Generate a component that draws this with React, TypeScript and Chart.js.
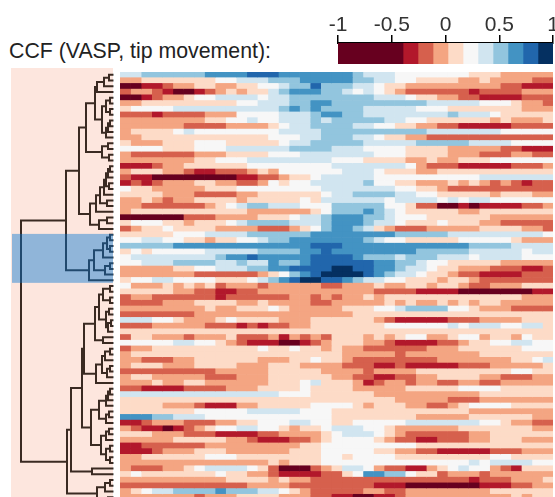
import React, { useEffect, useRef } from "react";
import { Chart, registerables } from "chart.js";

Chart.register(...registerables);

const titleText = "CCF (VASP, tip movement):";
const tickValues = [-1, -0.5, 0, 0.5, 1];
const classCodes = "abcdefghijk";
const classColors = ["#67001f", "#b2182b", "#d6604d", "#f4a582", "#fddbc7", "#f7f7f7", "#d1e5f0", "#92c5de", "#4393c3", "#2166ac", "#053061"];
const classEdges = [-1, -0.395, -0.256, -0.116, 0.023, 0.163, 0.302, 0.442, 0.581, 0.721, 0.86, 1];

// One string per row, one class code per lag column (spaces are only for reading).
const heatRows = [
  "gg hhhhhh iiii jjj iiiiiii h ggg fffffff eee ddddd",
  "dd eeeeeee ff ggg h hh iiiii hh gg ff eeee dd e dddd cc",
  "aa bb c dd ee dd ee ff g hh j hhh gg f ee ddddddddd cc bbb",
  "c dd c b aa b c d e d ee g h iii hh g f g f e d cccccc b cccc ddd",
  "aa b c dd e ff gggg f g g hhhhhhhh ggg f ee dd cc bbbb ccc",
  "dd eeeeeeeee ff gg g hh ii hhhhhhhhh ggggg fff e dd c",
  "e ffff gggggggggg h i h i hhhh ggggg fff eeeeeee ddd",
  "ccc b cccc ddd ffff ggg h ii hh gggggggg h ggg f eeeee",
  "dddddddd ee ff g ff ggg h g hhhhh gg ff eeeeee d e ddd e",
  "dddddd cccc dddd e f gg hhhh gg ff ee dd cc bbbbb cccc",
  "d eeee f g ffffffff gggg hhhhhhhhhh ggggggg fffff",
  "dd eeeeeeeeeeee f ff gg hhh gg f ee dd cccccccccccc",
  "e ddd eee fff eeeee f gg hhhhh ggggg hhhhh gggg ffff",
  "ffff eee fff ggggg g hhhh ggg ffff eeee ddddd cc bbb",
  "d cccccc ddd eeee f ff ggggggg fff eeee ddd ccc dd cc",
  "ddddddd ee fff ggg ggggg fff eeee dd e dd eee ffffff",
  "bbb c dd eeeeee fff fffff ggggggg f d ccc bbbbb ccc d",
  "d eee dd c bb ccc d e d ffffff ggg f eee dd eeeeeeeeeee",
  "c bb aaaaaaaa bb cc d ee f ggggg ffffffffff ggggggg",
  "b c b c ddd ee dd cc d f e ff ggggg h ff ee ddd e d e d c d c b cc",
  "f ee ddddd eee ffff ffff ggggggg ff ee d cccccccccc",
  "eeee ddd cccc dd ee eeee f gg hhhh gg ff eeeee d eee dd",
  "dd e d c dd eeee d eee ee f e gggggg f gggg f g f gg ffffff",
  "dd cccccc d e f g hh g gg fff hhhhh ff e cc aa b a bbbb cc d",
  "d eeeeeeeeeee ddd ddd e f hhh i h g f eeeee dd eeeeeee",
  "aaaaaa ccc dddd ee e f gg h iii hh g fff eeeeee dddddd",
  "e fff ee d eee f g hhh h ggg h iii h gg f eee f eee dd ccccc",
  "c d ee f eeee dddd cc c d e f h ii h g e d ccc ddddd eeee dd c",
  "eeeee fff gggg hhh hhh iiiiiiii hhhhh ggggggggg f",
  "ff gg ff ee d ee ff g h h iiiiiii h g ff eeeee fffff e ddd",
  "hhhhh iiiiiiiiii iii jjj iiiiiiiiiiii hhhh gggg",
  "e f e fffff ggggg hh hh ii j iiiiiiii hhhhh ggggg f gg",
  "f gggggggg h ii j ii iii jjjj i hhh g hhh ggg f gggg fff",
  "ff ggg hhhh gg h gg i hh i jjjjjj ii hh g ff eeeee ddddd",
  "ddddd ee ff ggg hh i i jjjj kk jj ii h gg f ee ddd ccc bb c",
  "ddddddd cccccc d e f h i j kkkk j i h gg f ee d cc bbbb ccc",
  "e ff gg ffff eee f g h i j kk jj i h gg ff eee d ee d ccccccc",
  "f ddd e d e d e c ddd c d dddd cc ddd e dd ee d ee d cc ddd eee",
  "eeeee dd cc bb cc dd ddddddddd cccc bbbb aaaaaaa bb",
  "c dd cccccc b ccccc c dd c d c dd e d eeeeeeeeeeeee ddd",
  "cccc ddd eeee dd e d ddd cc ddddd e d e dd e d e d ee ddddd",
  "dddddddd e dd eee f e ddddd eee ff g hhhh ff e ddd cccc",
  "ccccccc dddddddd ddddddd eeeeeeeeeeeeeeeeeee",
  "ggg ff e ddd e f eeee ddd eeeeee d c bbbbb ccc dddd eee",
  "ccc ddddd ccc b c b c c dd eeeeeee ffffff g f ggg ff gg e",
  "eeeeeeeeeeeeeee eeeeeeeeeeeeeeeeeeeeeeeeee",
  "c ee ddd c ddd e ccc d b d c d c eee d e d e ff dd e ff d ee d f e e",
  "fffff gg ff e d c bbb aa b c d eee dd c bbbb cc d ee ff gg ff",
  "c dd eeeeeeeeee f e e f ee d e dd cccccc ddd eeeeee fff",
  "d eeeeeeeeeeeeee eeeeee ddddd c ddddddd eeeeeee",
  "dd ccc dd eeeeee dd d ee f ee d cccccccc ddddddd ee f g",
  "d eee ddd eeee ddd e ee dddd ccc bb c bbbbb ccc ddddd e",
  "ccccccccc ddddd e eeee dddd c dddd eeeeeeeee ff ee",
  "d ee ddddd ccc ddd e eeeee dd cc bb cc dd eeee dd ccc dd",
  "ddd e dd ee dddddd e ee f g eee d b c dd c dd cc dd cc ddddd",
  "cc bbbb cccc ddd ee ee f eeee ddddd eeeee ffff eeeee",
  "ggggggggggggggg fff eeeeee dddddddddd eeeeeee",
  "eeeeeeeeeeeeeee eeeeeeeeeee ddddd ccc ddddddd",
  "eeee ddd c bbb dd ee eee ffff e d eee dd cc d e ffff eeee",
  "eeeeeee fffff ggg gg fff eeeeeeeeeeeee dddddddd",
  "iii hh ggg fffffff fffff eeeeeeee ddddd eeeeee dd",
  "bb c ddd ccc dd ee ff f gg ff ee fffff ggggggg ff e dd cc",
  "d c bb a b c d e ff gg ff e d ee f ggg ff e dddddd eeeeeee dd",
  "eee ddd ccc bbbb cc dddd e f ggg f e d cccccc dd eeeeee",
  "ddddd eeeee dd c bb b cc d e ffff e d cc bb ccc dd eee ddd",
  "bb cccccc ddddddd dd ee fffffffff eeeeeeeeeeeee",
  "bbb c ddd eee ddddd d eee fffff ee dd cc bbbbb ccc ddd",
  "dd eeeeee fff eeee eeee ff e ffff eeeeeeeee ff eeee",
  "dddddddddddddd e d eee ffffffffffffff g f gggg ff",
  "d ccc dd e f gggg f e c aaa c d e gg f d cc bb d e f g ff d c b eee",
  "e f eeeeeee f ee dd c bbbb cc e f ii hh f ee c ddd c dddddd",
  "dddddddddd eeee d e dd ccccccccccccccc b ccc ddd e",
  "cccccccccccc ddd d cccccccc bbb aaaaaaa bbb cc dd",
  "d e f gg hhhh i hhh gg f e d ccccc dd cc dddddddd eeeeee",
  "ddddddd c ddd eeee ddd cc bb aa bb c dddddddddd e d ee",
].map((r) => r.replace(/ /g, ""));

// Dendrogram: [mergeHeight, upperChild, lowerChild]; 0 is a leaf, leaves are numbered top to bottom.
type Node = 0 | [number, Node, Node];
const clusterTop: Node = [34,
  [27,
    [18,
      [16, [9, [4, 0, 0], 0], 0],
      [11, [7, [3, 0, 0], [3, 0, 0]], [7, [5, [3, 0, 0], 0], 0]]],
    [11, [5, 0, 0], [4, 0, 0]]],
  [23,
    [17,
      [13, [9, [7, [5, [3, 0, 0], 0], [4, 0, 0]], 0], [6, 0, 0]],
      0],
    [14, [6, 0, 0], 0]]];
const clusterBlue: Node = [24,
  [19, [10, [6, [3, 0, 0], [3, 0, 0]], 0], [8, [3, 0, 0], 0]],
  0];
const clusterMiddle: Node = [31,
  [29,
    [18,
      [14, [10, [3, 0, 0], [3, 0, 0]], [7, [4, 0, 0], [5, [2, 0, 0], 0]]],
      [10, 0, 0]],
    [17, [11, [8, [3, 0, 0], 0], [6, [3, 0, 0], 0]], 0]],
  [22,
    [14, [7, [5, [3, 0, 0], 0], 0], [7, [4, 0, 0], 0]],
    [12, [7, [4, 0, 0], 0], [7, [3, 0, 0], [3, 0, 0]]]]];
const clusterLone: Node = [21, 0, 0];
const clusterBottom: Node = [16, [8, [3, 0, 0], 0], [5, 0, 0]];
const dendrogram: Node = [92,
  [47, clusterTop, clusterBlue],
  [46, [42, clusterMiddle, clusterLone], clusterBottom]];

const pinkRange = [0, 102];
const blueRange = [0, 101];
const blueRows = [28.37, 36.95];

function buildTree(root: Node) {
  const pts: { x: number; y: number }[] = [];
  const leaves: { x: number; y: number }[] = [];
  let leaf = 0;
  const walk = (n: Node): [number, number] => {
    if (n === 0) {
      const y = leaf + 0.5;
      leaf += 1;
      leaves.push({ x: 0, y }, { x: -1, y }, { x: NaN, y: NaN });
      return [0, y];
    }
    const [h, a, b] = n;
    const [ha, ya] = walk(a);
    const [hb, yb] = walk(b);
    pts.push({ x: ha, y: ya }, { x: h, y: ya }, { x: h, y: yb }, { x: hb, y: yb }, { x: NaN, y: NaN });
    return [h, (ya + yb) / 2];
  };
  walk(root);
  return { pts, leaves };
}

export default function App() {
  const barRef = useRef<HTMLCanvasElement>(null);
  const treeRef = useRef<HTMLCanvasElement>(null);
  const heatRef = useRef<HTMLCanvasElement>(null);

  useEffect(() => {
    const font = "'Liberation Sans', Arial, sans-serif";
    const barChart = new Chart(barRef.current!, {
      type: "bar",
      data: {
        labels: ["ccf"],
        datasets: classColors.map((c, i) => ({
          data: [[classEdges[i], classEdges[i + 1]]],
          backgroundColor: c,
          borderWidth: 0,
          barPercentage: 1,
          categoryPercentage: 1,
          grouped: false,
        })) as any,
      },
      options: {
        animation: false,
        responsive: false,
        devicePixelRatio: 1,
        indexAxis: "y",
        layout: { padding: { left: 20, right: 22, top: 0, bottom: 0 } },
        plugins: { legend: { display: false }, tooltip: { enabled: false } },
        scales: {
          y: { display: false },
          x: {
            type: "linear",
            position: "top",
            min: -1,
            max: 1,
            afterBuildTicks: (s: any) => {
              s.ticks = tickValues.map((value) => ({ value }));
            },
            afterFit: (s: any) => {
              s.height = 43;
            },
            border: { display: true, color: "#000", width: 2 },
            grid: { drawOnChartArea: false, drawTicks: true, tickLength: 8, color: "#000", lineWidth: 1.5 },
            ticks: {
              autoSkip: false,
              maxRotation: 0,
              padding: -3,
              color: "#333",
              font: { family: font, size: 21 },
              callback: (v: any) => String(v),
            },
          },
        },
      } as any,
    });

    const { pts, leaves } = buildTree(dendrogram);
    const bgPlugin = {
      id: "treeBands",
      beforeDatasetsDraw(c: any) {
        const { ctx, scales, chartArea } = c;
        const l = scales.x.getPixelForValue(pinkRange[1]);
        const r = scales.x.getPixelForValue(pinkRange[0]);
        ctx.save();
        ctx.fillStyle = "#fde6de";
        ctx.fillRect(l, chartArea.top, r - l, chartArea.bottom - chartArea.top);
        ctx.restore();
      },
      afterDatasetsDraw(c: any) {
        const { ctx, scales } = c;
        const l = scales.x.getPixelForValue(blueRange[1]);
        const r = scales.x.getPixelForValue(blueRange[0]);
        const t = scales.y.getPixelForValue(blueRows[0]);
        const b = scales.y.getPixelForValue(blueRows[1]);
        ctx.save();
        ctx.fillStyle = "rgba(0,116,210,0.43)";
        ctx.fillRect(l, t, r - l, b - t);
        ctx.restore();
      },
    };
    const treeChart = new Chart(treeRef.current!, {
      type: "scatter",
      data: {
        datasets: [
          { data: leaves, showLine: true, pointRadius: 0, borderColor: "#9a9a9a", borderWidth: 2, spanGaps: false },
          { data: pts, showLine: true, pointRadius: 0, borderColor: "#3a2a22", borderWidth: 2, spanGaps: false, tension: 0 },
        ],
      },
      options: {
        animation: false,
        responsive: false,
        devicePixelRatio: 1,
        layout: { padding: 0 },
        plugins: { legend: { display: false }, tooltip: { enabled: false } },
        scales: {
          x: { type: "linear", display: false, min: -2, max: 102, reverse: true },
          y: { type: "linear", display: false, min: -0.7, max: 75, reverse: true },
        },
      } as any,
      plugins: [bgPlugin],
    });

    const columnCount = heatRows[0].length;
    const heatChart = new Chart(heatRef.current!, {
      type: "bar",
      data: {
        labels: heatRows.map((_, i) => String(i)),
        datasets: Array.from({ length: columnCount }, (_, col) => ({
          data: heatRows.map(() => 1),
          backgroundColor: heatRows.map((r) => classColors[classCodes.indexOf(r[col])]),
          borderWidth: 0,
          barPercentage: 1,
          categoryPercentage: 1,
          stack: "lags",
        })),
      },
      options: {
        animation: false,
        responsive: false,
        devicePixelRatio: 1,
        indexAxis: "y",
        layout: { padding: 0 },
        plugins: { legend: { display: false }, tooltip: { enabled: false } },
        scales: {
          x: { type: "linear", display: false, stacked: true, min: 0, max: columnCount },
          y: { type: "category", display: false, stacked: true },
        },
      } as any,
    });

    return () => {
      barChart.destroy();
      treeChart.destroy();
      heatChart.destroy();
    };
  }, []);

  return (
    <div style={{ position: "absolute", left: 0, top: 0, width: 555, height: 497, overflow: "hidden", background: "#fff" }}>
      <div
        style={{
          position: "absolute",
          left: 9,
          top: 39,
          font: "21.3px/24px 'Liberation Sans', Arial, sans-serif",
          color: "#222",
          whiteSpace: "nowrap",
        }}
      >
        {titleText}
      </div>
      <canvas ref={barRef} width={257} height={64} style={{ position: "absolute", left: 318, top: 0, width: 257, height: 64 }} />
      <canvas ref={treeRef} width={104} height={432} style={{ position: "absolute", left: 11, top: 68, width: 104, height: 432 }} />
      <canvas ref={heatRef} width={433} height={428} style={{ position: "absolute", left: 120, top: 72, width: 433, height: 428 }} />
    </div>
  );
}
